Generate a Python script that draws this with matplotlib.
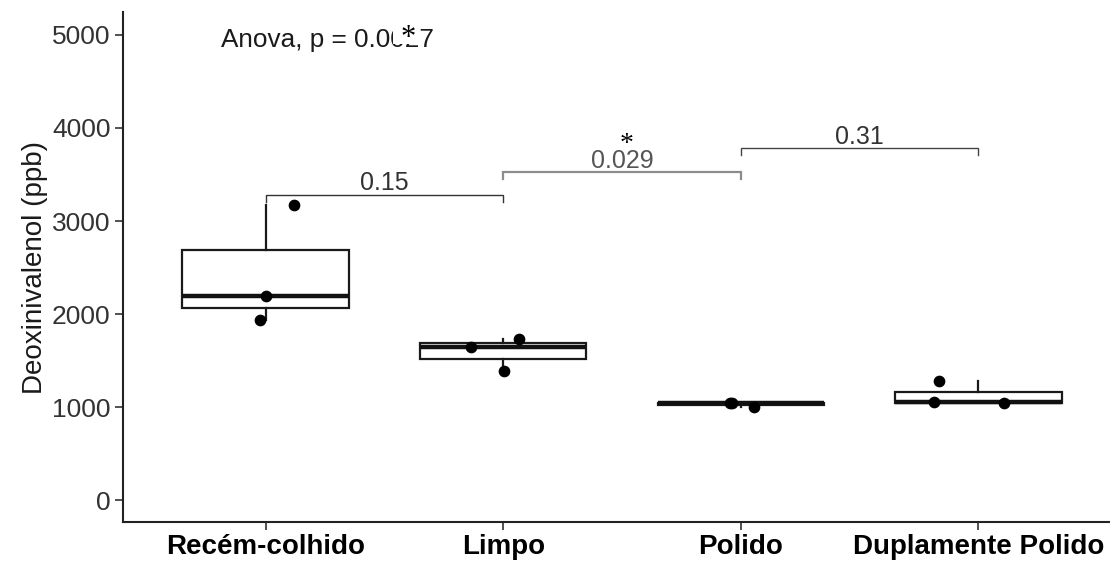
import numpy as np
import matplotlib
matplotlib.use("Agg")
import matplotlib.pyplot as plt
from matplotlib.patches import Rectangle

plt.rcParams['font.family'] = ['Liberation Sans', 'DejaVu Sans']

# data: 3 readings per group
groups = ["Recém-colhido", "Limpo", "Polido", "Duplamente Polido"]
values = [
    [3172, 2194, 1940],
    [1645, 1731, 1387],
    [1043, 1005, 1038],
    [1280, 1054, 1043],
]
# horizontal jitter of each point (in category units)
jitter = [
    [0.118, 0.0, -0.025],
    [-0.134, 0.067, 0.004],
    [-0.046, 0.055, -0.035],
    [-0.168, -0.189, 0.109],
]

# pairwise comparisons: (group a, group b), p label, bracket height
pairs = [(1, 2), (2, 3), (3, 4)]
p_labels = ["0.15", "0.029", "0.31"]
bracket_y = [3280, 3527, 3785]
anova_label = "Anova, p = 0.0027"

fig = plt.figure(figsize=(11.1, 5.63), dpi=100)
ax = fig.add_axes([123/1110, 41/563, 998/1110, 510/563])

pos = np.arange(1, len(groups) + 1)
ax.boxplot(values, positions=pos, widths=0.7, whis=1.5, showcaps=False,
           showfliers=False, patch_artist=True,
           boxprops=dict(facecolor="white", edgecolor="#1a1a1a", linewidth=1.6),
           whiskerprops=dict(color="#1a1a1a", linewidth=1.6),
           medianprops=dict(color="#111111", linewidth=3.2, solid_capstyle="butt"))

for i, (vals, jit) in enumerate(zip(values, jitter)):
    ax.scatter(pos[i] + np.array(jit), vals, s=55, color="black", zorder=5)

# brackets with p values
tick_drop = 75
for (a, b), lab, yb, col, lw, tcol in zip(pairs, p_labels, bracket_y,
                                         ["#333333", "#8c8c8c", "#444444"],
                                         [1.0, 1.6, 1.0],
                                         ["#333333", "#555555", "#333333"]):
    ax.plot([a, a, b, b], [yb - tick_drop, yb, yb, yb - tick_drop],
            color=col, linewidth=lw, solid_joinstyle="miter")
    ax.text((a + b) / 2, yb + 48, lab, ha="center", va="baseline",
            fontsize=18, color=tcol)

ax.text(0.812, 4871, anova_label, ha="left", va="baseline", fontsize=18.8, color="#1a1a1a")
# asterisks pasted over the figure (one covers part of the anova p value)
ax.add_patch(Rectangle((1.537, 4898), 0.104, 340, facecolor="white",
                       edgecolor="none", zorder=6))
ax.text(1.599, 4882, "*", ha="center", va="baseline", fontsize=22,
        family="Liberation Serif", color="black", zorder=7)
ax.text(2.521, 3753, "*", ha="center", va="baseline", fontsize=20,
        family="Liberation Serif", color="black", zorder=7)

ax.set_xlim(0.4, 4.6)
ax.set_ylim(-236, 5247)
ax.set_yticks([0, 1000, 2000, 3000, 4000, 5000])
ax.set_xticks(pos)
ax.set_xticklabels(groups, fontsize=20, fontweight="bold", color="black")
ax.tick_params(axis="y", labelsize=19, labelcolor="#333333", length=6, width=1.2,
               color="#333333", pad=3)
ax.tick_params(axis="x", length=6, width=1.2, color="#333333", pad=3)
ax.set_ylabel("Deoxinivalenol (ppb)", fontsize=20, color="#1a1a1a", labelpad=3)

for s in ["top", "right"]:
    ax.spines[s].set_visible(False)
for s in ["left", "bottom"]:
    ax.spines[s].set_linewidth(1.5)
    ax.spines[s].set_color("#222222")

fig.savefig("out.png", dpi=100)
